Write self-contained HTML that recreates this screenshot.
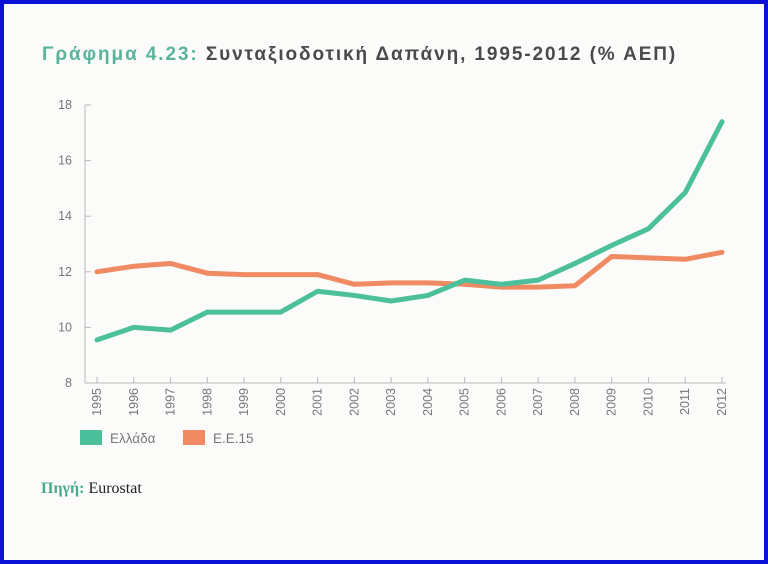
<!DOCTYPE html>
<html><head><meta charset="utf-8"><style>
html,body{margin:0;padding:0;}
body{width:768px;height:564px;overflow:hidden;background:#fff;font-family:"Liberation Sans","DejaVu Sans",sans-serif;}
#frame{position:absolute;left:0;top:0;width:760px;height:556px;border:4px solid #0b12d6;background:#fbfbfa;}
#title{position:absolute;left:42px;top:44px;font-size:19px;font-weight:bold;color:#4a4a4a;white-space:nowrap;letter-spacing:1.9px;}
#title span{color:#5bb39c;}
#source{position:absolute;left:41px;top:480px;font-size:16px;font-family:"Liberation Serif",serif;color:#222;}
#source b{color:#4aa98c;}
</style></head><body>
<div id="frame"></div>
<div id="title"><span>Γράφημα 4.23:</span> Συνταξιοδοτική Δαπάνη, 1995-2012 (% ΑΕΠ)</div>
<svg id="chart" width="768" height="564" style="position:absolute;left:0;top:0"></svg>
<div id="source"><b>Πηγή:</b> Eurostat</div>
<script>
const years=["1995","1996","1997","1998","1999","2000","2001","2002","2003","2004","2005","2006","2007","2008","2009","2010","2011","2012"];
const greece=[9.55,10.0,9.9,10.55,10.55,10.55,11.3,11.15,10.95,11.15,11.7,11.55,11.7,12.3,12.95,13.55,14.85,17.4];
const eu15=[12.0,12.2,12.3,11.95,11.9,11.9,11.9,11.55,11.6,11.6,11.55,11.45,11.45,11.5,12.55,12.5,12.45,12.7];
const yTicks=[8,10,12,14,16,18];
const NS="http://www.w3.org/2000/svg";
const svg=document.getElementById('chart');
const x0=97,x1=722,yTop=105,yBot=383,axisX=85;
function xs(i){return x0+(x1-x0)*i/(years.length-1);}
function ys(v){return yBot-(v-8)/(18-8)*(yBot-yTop);}
function mk(tag,attrs){const e=document.createElementNS(NS,tag);for(const k in attrs)e.setAttribute(k,attrs[k]);svg.appendChild(e);return e;}
const axY=mk('line',{x1:axisX,y1:yTop,x2:axisX,y2:yBot,stroke:'#bbb','stroke-width':1});


const axX=mk('line',{x1:axisX,y1:yBot,x2:x1+4,y2:yBot,stroke:'#bbb','stroke-width':1});


yTicks.forEach(t=>{
  const tk=mk('line',{x1:axisX,y1:ys(t),x2:axisX+6,y2:ys(t),stroke:'#bbb'});
  
  
  const l=mk('text',{x:72,y:ys(t)+4,'text-anchor':'end','font-size':12.5,fill:'#777'});
  l.textContent=t;
  
  
});
years.forEach((yr,i)=>{
  const tk=mk('line',{x1:xs(i),y1:yBot,x2:xs(i),y2:yBot-6,stroke:'#bbb'});
  
  
  const l=mk('text',{x:0,y:0,'text-anchor':'end','font-size':12.5,fill:'#777',transform:`translate(${xs(i)+4},${yBot+5}) rotate(-90)`});
  l.textContent=yr;
  
  
});
function series(vals,color,name){
  const p=mk('polyline',{points:vals.map((v,i)=>xs(i)+','+ys(v)).join(' '),fill:'none',stroke:color,'stroke-width':5,'stroke-linejoin':'round','stroke-linecap':'round'});
  
  
}
series(eu15,'#ef8a62','eu15-line');
series(greece,'#4cbf9b','greece-line');
const lg1=mk('rect',{x:80,y:430,width:22,height:15,fill:'#4cbf9b'});


const lt1=mk('text',{x:110,y:443,'font-size':13.5,fill:'#777'});
lt1.textContent='Ελλάδα';


const lg2=mk('rect',{x:183,y:430,width:22,height:15,fill:'#ef8a62'});


const lt2=mk('text',{x:213,y:443,'font-size':13.5,fill:'#777'});
lt2.textContent='Ε.Ε.15';


</script>
</body></html>
